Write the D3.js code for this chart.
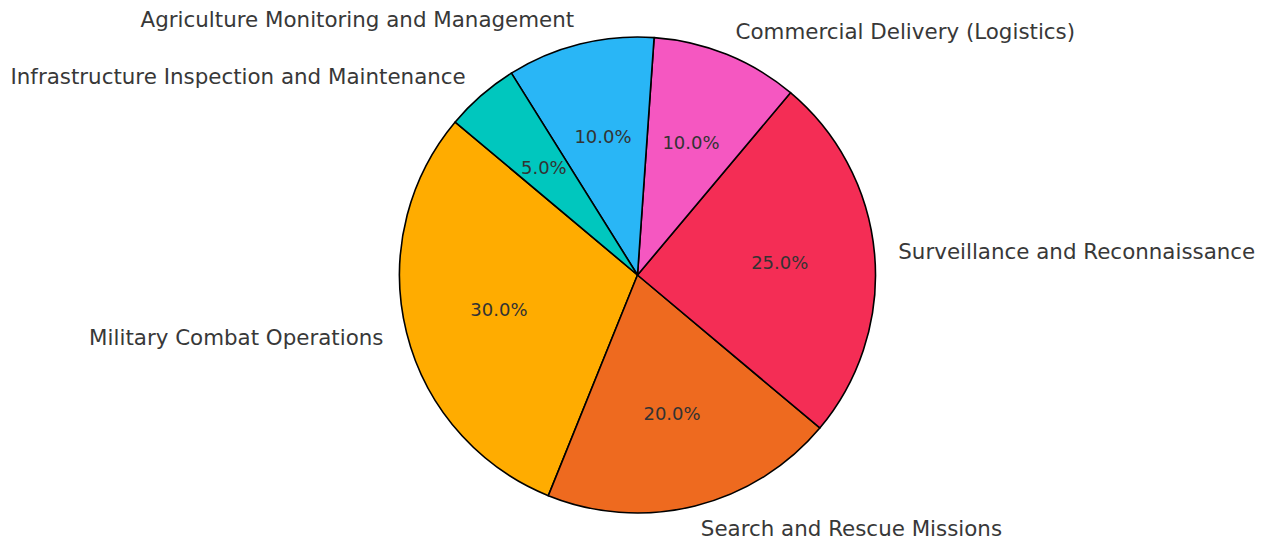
<!DOCTYPE html>
<html><head><meta charset="utf-8">
<script src="https://cdn.jsdelivr.net/npm/d3@7"></script>
<style>html,body{margin:0;padding:0;background:#fff;}</style>
</head><body>
<svg id="chart" width="1268" height="543"></svg>
<script>
const categories = ["Military Combat Operations","Search and Rescue Missions","Surveillance and Reconnaissance","Commercial Delivery (Logistics)","Agriculture Monitoring and Management","Infrastructure Inspection and Maintenance"];
const values = [30, 20, 25, 10, 10, 5];
const colors = ["#FFAC00","#EE6A1F","#F42D55","#F557C1","#29B6F6","#00C7BE"];

const W = 1268, H = 543;
const cx = 637.5, cy = 275, R = 238;
const startDeg = 140; // matplotlib-style start angle (CCW from 3 o'clock)
const toRad = d => d * Math.PI / 180;

const svg = d3.select("#chart");
const g = svg.append("g").attr("transform", `translate(${cx},${cy})`);

const pie = d3.pie().sort(null).value(d => d.v)
  .startAngle(toRad(90 - startDeg)).endAngle(toRad(90 - startDeg) - 2 * Math.PI);
const data = pie(categories.map((c, i) => ({c, v: values[i], col: colors[i]})));
const total = d3.sum(values);

const arc = d3.arc().innerRadius(0).outerRadius(R);
g.selectAll("path.slice").data(data).join("path")
  .attr("class", "slice")
  .attr("d", arc)
  .attr("fill", d => d.data.col)
  .attr("stroke", "#000").attr("stroke-width", 1.6).attr("stroke-linejoin", "round");

const mid = d => (d.startAngle + d.endAngle) / 2;
// labels at 1.1R
g.selectAll("text.lbl").data(data).join("text")
  .attr("class", "lbl")
  .attr("x", d => 1.1 * R * Math.sin(mid(d)))
  .attr("y", d => -1.1 * R * Math.cos(mid(d)) - 1)
  .attr("text-anchor", d => Math.sin(mid(d)) >= 0 ? "start" : "end")
  .attr("dominant-baseline", "central")
  .attr("font-family", "DejaVu Sans")
  .attr("font-size", 21.4)
  .attr("fill", "#383838")
  .text(d => d.data.c);

const fmt = d3.format(".1f");
g.selectAll("text.pct").data(data).join("text")
  .attr("class", "pct")
  .attr("x", d => 0.6 * R * Math.sin(mid(d)))
  .attr("y", d => -0.6 * R * Math.cos(mid(d)))
  .attr("text-anchor", "middle")
  .attr("dominant-baseline", "central")
  .attr("font-family", "DejaVu Sans")
  .attr("font-size", 18)
  .attr("fill", "#333")
  .text(d => fmt(d.data.v / total * 100) + "%");
</script>
</body></html>
